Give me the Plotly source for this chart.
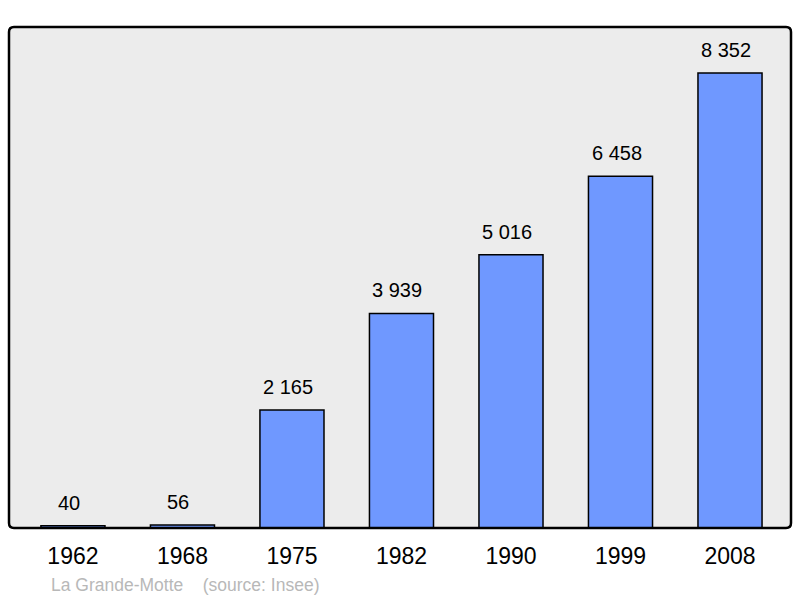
import plotly.graph_objects as go

years = ["1962", "1968", "1975", "1982", "1990", "1999", "2008"]
population = [40, 56, 2165, 3939, 5016, 6458, 8352]
labels = ["40", "56", "2 165", "3 939", "5 016", "6 458", "8 352"]
caption = "La Grande-Motte    (source: Insee)"

W, H = 800, 598
ml, mr, mt, mb = 9, 9, 27, 70
FONT = "Liberation Sans, Arial, sans-serif"

fig = go.Figure(go.Bar(
    x=years, y=population, width=0.585,
    marker=dict(color="#6f98ff", line=dict(color="black", width=1.5)),
    hoverinfo="skip",
))

for i, (v, t) in enumerate(zip(population, labels)):
    fig.add_annotation(x=i, y=v, xref="x", yref="y", text=t, showarrow=False,
                       yanchor="bottom", yshift=10, xshift=-4,
                       font=dict(size=20, color="black", family=FONT))

pw, ph = W - ml - mr, H - mt - mb
fig.add_annotation(xref="paper", yref="paper", x=(49 - ml) / pw, y=-(585 - (H - mb)) / ph,
                   xanchor="left", yanchor="middle", showarrow=False, text=caption,
                   font=dict(size=17.5, color="#b8b8b8", family=FONT))

# rounded frame
rx, ry = 5 / pw, 5 / ph
path = (f"M {rx},0 L {1-rx},0 Q 1,0 1,{ry} L 1,{1-ry} Q 1,1 {1-rx},1 "
        f"L {rx},1 Q 0,1 0,{1-ry} L 0,{ry} Q 0,0 {rx},0 Z")
fig.add_shape(type="path", xref="paper", yref="paper", path=path,
              line=dict(color="black", width=2.5), layer="above")

fig.update_layout(
    width=W, height=H,
    margin=dict(l=ml, r=mr, t=mt, b=mb),
    paper_bgcolor="white", plot_bgcolor="#ececec",
    showlegend=False,
    font=dict(family=FONT, color="black"),
    xaxis=dict(type="category", range=[-0.584, 6.557], showgrid=False, zeroline=False,
               showline=False, ticks="", tickfont=dict(size=23), ticklabelstandoff=12),
    yaxis=dict(range=[0, 9196], showticklabels=False, showgrid=False, zeroline=False,
               showline=False, ticks=""),
)

html = fig.to_html(include_plotlyjs=True, full_html=True,
                   config={"displayModeBar": False, "staticPlot": True})
html = html.replace("<head>", "<head><style>html,body{margin:0;padding:0;overflow:hidden;}</style>", 1)
with open("out.html", "w", encoding="utf-8") as f:
    f.write(html)
